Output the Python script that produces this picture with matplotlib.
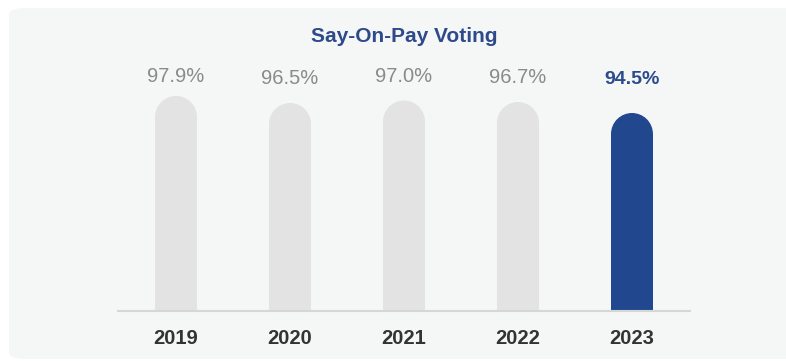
import matplotlib
matplotlib.use("Agg")
import matplotlib.pyplot as plt
from matplotlib.patches import Rectangle, Ellipse, FancyBboxPatch

years = ["2019", "2020", "2021", "2022", "2023"]
values = [97.9, 96.5, 97.0, 96.7, 94.5]
labels = ["97.9%", "96.5%", "97.0%", "96.7%", "94.5%"]
title = "Say-On-Pay Voting"

plt.rcParams['font.family'] = ['Liberation Sans', 'DejaVu Sans']

W, H = 786, 361
fig = plt.figure(figsize=(W / 100, H / 100), dpi=100)
fig.patch.set_facecolor("white")

# panel background
panel = FancyBboxPatch((9 / W, 2 / H), (W + 20 - 9) / W, (H - 10) / H,
                       boxstyle="round,pad=0,rounding_size=0.02",
                       transform=fig.transFigure, facecolor="#f5f6f6",
                       edgecolor="none", zorder=-10)
fig.patches.append(panel)

ax_left, ax_right = 118, 690
ax_bottom_px, ax_top_px = 311, 60
ax = fig.add_axes([ax_left / W, (H - ax_bottom_px) / H,
                   (ax_right - ax_left) / W, (ax_bottom_px - ax_top_px) / H])
ax.set_zorder(5)
ax.set_facecolor("none")
ymin, ymax = 54.9, 105.1
ax.set_xlim(-0.509, len(years) - 1 + 0.509)
ax.set_ylim(ymin, ymax)
for s in ax.spines.values():
    s.set_visible(False)
ax.set_yticks([])
ax.set_xticks(range(len(years)))
ax.set_xticklabels(years, fontsize=14.5, fontweight="bold", color="#333333")
ax.tick_params(axis="x", length=0, pad=13)

bw = 0.368
# radius in data units (y) corresponding to half bar width in pixels
p0 = ax.transData.transform((0, 0))
p1 = ax.transData.transform((bw, 1))
half_px = (p1[0] - p0[0]) / 2
px_per_unit = p1[1] - p0[1]
ry = half_px / px_per_unit

colors = ["#e3e3e3"] * 4 + ["#21478f"]
for i, (v, c) in enumerate(zip(values, colors)):
    ax.add_patch(Rectangle((i - bw / 2, ymin), bw, v - ry - ymin,
                           facecolor=c, edgecolor="none", zorder=2))
    ax.add_patch(Ellipse((i, v - ry), bw, 2 * ry, facecolor=c,
                         edgecolor="none", zorder=2))

ax.axhline(ymin, color="#d6d6d6", lw=1.5, zorder=3, clip_on=False)

label_y = [77, 79, 76, 78, 80]
for i, (lab, ly) in enumerate(zip(labels, label_y)):
    yy = ymax - (ly - ax_top_px) / px_per_unit
    if i == len(labels) - 1:
        ax.text(i, yy, lab, ha="center", va="center", fontsize=14,
                fontweight="bold", color="#2c4a8e", clip_on=False)
    else:
        ax.text(i, yy, lab, ha="center", va="center", fontsize=14.5,
                color="#8a8a8a", clip_on=False)

fig.text(404 / W, 1 - 36 / H, title, ha="center", va="center",
         fontsize=15, fontweight="bold", color="#2e4a8b")

fig.savefig("out.png", dpi=100)
